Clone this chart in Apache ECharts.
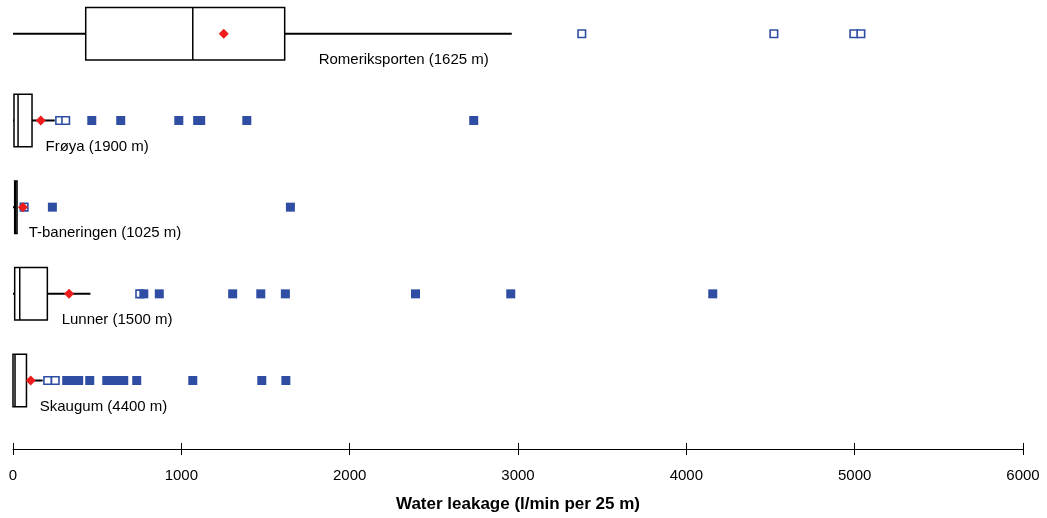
<!DOCTYPE html>
<html>
<head>
<meta charset="utf-8">
<title>Water leakage per tunnel</title>
<script src="https://cdn.jsdelivr.net/npm/echarts@6/dist/echarts.min.js"></script>
<style>
  html, body { margin: 0; padding: 0; background: #fff; }
  #chart { width: 1047px; height: 518px; }
</style>
</head>
<body>
<div id="chart"></div>
<script>
// Tunnels, top to bottom
const tunnels = ['Romeriksporten (1625 m)', 'Frøya (1900 m)', 'T-baneringen (1025 m)', 'Lunner (1500 m)', 'Skaugum (4400 m)'];

// Box statistics (l/min per 25 m)
const whiskerLow  = [0, 0, 0, 0, 0];
const quartile1   = [432, 6, 10, 10, 0];
const median      = [1068, 30, 16, 40, 12];
const quartile3   = [1614, 113, 24, 204, 80];
const whiskerHigh = [2963, 248, 24, 460, 176];
const mean        = [1252, 165, 59, 333, 105];

// Outliers (hollow squares) and extreme values (filled squares)
const outliers = [
  [3379, 4520, 4995, 5037],
  [277, 313],
  [66],
  [753],
  [206, 251]
];
const extremes = [
  [],
  [468, 640, 985, 1097, 1115, 1389, 2737],
  [234, 1648],
  [777, 869, 1305, 1472, 1618, 2391, 2957, 4157],
  [319, 355, 390, 456, 557, 581, 610, 658, 735, 1068, 1478, 1621]
];

// Axis ticks
const xTicks = [0, 1000, 2000, 3000, 4000, 5000, 6000];

// Where each tunnel's caption starts along the leakage axis
const captionStart = [1816, 193, 93, 289, 159];

const BLUE = '#2f4ea3';
const RED = '#ee1c1c';
const FONT = 'Liberation Sans, Arial, sans-serif';
const BOX_SPAN = 0.605;      // box height in row units
const CAPTION_DROP = 0.30;   // caption sits below the row centre

const rowOf = i => tunnels.length - i;

const boxData = tunnels.map((t, i) => [rowOf(i), whiskerLow[i], quartile1[i], median[i], quartile3[i], whiskerHigh[i]]);
const meanData = tunnels.map((t, i) => [mean[i], rowOf(i)]);
const outlierData = [];
const extremeData = [];
tunnels.forEach((t, i) => {
  outliers[i].forEach(v => outlierData.push([v, rowOf(i)]));
  extremes[i].forEach(v => extremeData.push([v, rowOf(i)]));
});
const captionData = tunnels.map((t, i) => ({ value: [captionStart[i], rowOf(i) - CAPTION_DROP], name: t }));

const chart = echarts.init(document.getElementById('chart'), null, { renderer: 'canvas' });

chart.setOption({
  animation: false,
  backgroundColor: '#fff',
  grid: { left: 13, right: 24, top: 0, bottom: 64 },
  xAxis: [
    {
      type: 'value',
      min: xTicks[0],
      max: xTicks[xTicks.length - 1],
      interval: xTicks[1] - xTicks[0],
      position: 'bottom',
      name: 'Water leakage (l/min per 25 m)',
      nameLocation: 'middle',
      nameGap: 47,
      nameTextStyle: { fontFamily: FONT, fontSize: 17, fontWeight: 'bold', color: '#000' },
      axisLine: { show: true, lineStyle: { color: '#000', width: 1 } },
      axisTick: { show: true, length: 6, lineStyle: { color: '#000', width: 1 } },
      axisLabel: { fontFamily: FONT, fontSize: 15, color: '#000', margin: 19, formatter: v => String(v) },
      splitLine: { show: false }
    },
    {
      type: 'value',
      min: xTicks[0],
      max: xTicks[xTicks.length - 1],
      interval: xTicks[1] - xTicks[0],
      position: 'bottom',
      axisLine: { show: false },
      axisTick: { show: true, inside: true, length: 6, lineStyle: { color: '#000', width: 1 } },
      axisLabel: { show: false },
      splitLine: { show: false }
    }
  ],
  yAxis: {
    type: 'value',
    min: 0.21,
    max: 5.39,
    show: false,
    splitLine: { show: false }
  },
  series: [
    {
      type: 'custom',
      clip: false,
      data: boxData,
      encode: { x: [1, 2, 3, 4, 5], y: 0 },
      renderItem: function (params, api) {
        const row = api.value(0);
        const lo = api.coord([api.value(1), row]);
        const q1 = api.coord([api.value(2), row]);
        const md = api.coord([api.value(3), row]);
        const q3 = api.coord([api.value(4), row]);
        const hi = api.coord([api.value(5), row]);
        const h = api.size([0, BOX_SPAN])[1];
        const y = q1[1];
        const lineStyle = { stroke: '#000', lineWidth: 2 };
        return {
          type: 'group',
          children: [
            { type: 'line', shape: { x1: lo[0], y1: y, x2: q1[0], y2: y }, style: lineStyle },
            { type: 'line', shape: { x1: q3[0], y1: y, x2: hi[0], y2: y }, style: lineStyle },
            { type: 'rect', shape: { x: q1[0], y: y - h / 2, width: q3[0] - q1[0], height: h },
              style: { fill: '#fff', stroke: '#000', lineWidth: 1.5 } },
            { type: 'line', shape: { x1: md[0], y1: y - h / 2, x2: md[0], y2: y + h / 2 },
              style: { stroke: '#000', lineWidth: 1.5 } }
          ]
        };
      },
      z: 2
    },
    {
      type: 'scatter',
      data: outlierData,
      symbol: 'rect',
      symbolSize: 7.5,
      itemStyle: { color: '#fff', borderColor: BLUE, borderWidth: 1.6, opacity: 1 },
      z: 3
    },
    {
      type: 'scatter',
      data: extremeData,
      symbol: 'rect',
      symbolSize: 9,
      itemStyle: { color: BLUE, opacity: 1 },
      z: 4
    },
    {
      type: 'scatter',
      data: meanData,
      symbol: 'diamond',
      symbolSize: 10,
      itemStyle: { color: RED, opacity: 1 },
      z: 5
    },
    {
      type: 'scatter',
      data: captionData,
      symbolSize: 0,
      silent: true,
      itemStyle: { opacity: 1 },
      label: {
        show: true,
        position: 'right',
        distance: 0,
        formatter: p => p.name,
        fontFamily: FONT,
        fontSize: 15,
        color: '#000'
      },
      z: 6
    }
  ]
});
</script>
</body>
</html>
